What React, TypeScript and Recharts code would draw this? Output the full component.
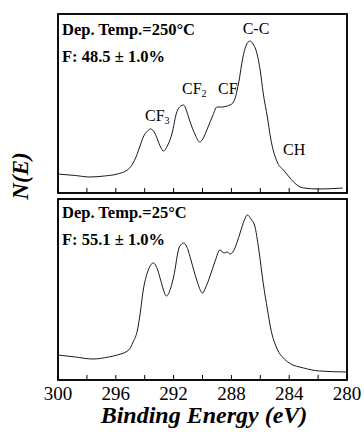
import * as React from "react"
import { LineChart, Line, XAxis, YAxis, ReferenceArea } from "recharts"

// Binding energy (eV) and N(E), per panel
const energy250 = [300.0, 298.8, 297.8, 296.8, 295.9, 295.2, 294.8, 294.6, 294.3, 294.1, 293.8, 293.6, 293.3, 293.1, 292.9, 292.7, 292.4, 292.1, 291.8, 291.5, 291.3, 291.1, 290.9, 290.5, 290.2, 289.9, 289.7, 289.3, 289.0, 288.6, 288.3, 287.9, 287.7, 287.5, 287.2, 286.9, 286.7, 286.5, 286.3, 286.0, 285.8, 285.5, 285.3, 284.8, 284.4, 284.0, 283.7, 283.0, 281.9, 280.3]
const counts250 = [19, 17.5, 16, 17, 19, 23, 30, 36, 48, 56, 62, 64, 60, 53, 46, 42, 48, 60, 80, 87, 88, 82, 73, 58, 51, 56, 63, 77, 86, 86, 87, 90, 97, 110, 136, 150, 152, 149, 143, 122, 100, 75, 56, 30, 23, 16, 11, 5, 4, 5]

const energy25 = [300.0, 298.8, 297.6, 296.5, 295.9, 295.1, 294.8, 294.5, 294.3, 294.1, 293.8, 293.4, 293.1, 292.9, 292.7, 292.5, 292.2, 292.0, 291.6, 291.3, 291.0, 290.8, 290.4, 290.0, 289.8, 289.5, 289.1, 288.8, 288.5, 288.3, 288.1, 287.9, 287.6, 287.4, 287.1, 286.9, 286.6, 286.4, 286.1, 285.8, 285.5, 285.3, 284.8, 284.4, 284.0, 283.0, 281.9, 280.0]
const counts25 = [25, 23, 21, 23, 25, 30, 38, 50, 68, 90, 108, 117, 110, 100, 90, 84, 92, 103, 133, 137, 130, 120, 100, 87, 92, 103, 120, 130, 127, 128, 126, 128, 138, 147, 160, 165, 160, 155, 130, 97, 70, 53, 30, 22, 17, 12, 9, 8]

const xTicks = [280, 282, 284, 286, 288, 290, 292, 294, 296, 298, 300]

const serif = '"Liberation Serif", "Times New Roman", serif'

// panel boxes (page px)
const W = 364
const LEFT = 58
const RIGHT = 347
const TOP1 = 14
const BOT1 = 193
const TOP2 = 199
const BOT2 = 380
const AXIS_H = 30
const TOP2_DIV = 190
const H2 = 242

const toRows = (xs: number[], ys: number[]) => xs.map((e, i) => ({ e, n: ys[i] }))

// inward tick mark, label below the frame on the bottom panel only
function EnergyTick(props: any) {
  const { x, y, payload, showLabel } = props
  const v = payload.value
  return (
    <g>
      <line x1={x} x2={x} y1={y} y2={y - 5} stroke="#000" strokeWidth={1} />
      {showLabel && v % 4 === 0 && (
        <text x={x} y={y + 20} textAnchor="middle" style={{ fontFamily: serif, fontSize: 19 }} fill="#000">
          {v}
        </text>
      )}
    </g>
  )
}

function Panel({ rows, yMax, height, margin, showLabels }: any) {
  return (
    <LineChart width={W} height={height} data={rows} margin={margin}>
      <XAxis
        dataKey="e"
        type="number"
        domain={[280, 300]}
        reversed
        ticks={xTicks}
        interval={0}
        height={AXIS_H}
        tickSize={0}
        tickMargin={0}
        axisLine={false}
        tickLine={false}
        tick={(p: any) => <EnergyTick {...p} showLabel={showLabels} />}
      />
      <YAxis hide type="number" domain={[0, yMax]} />
      <ReferenceArea x1={280} x2={300} y1={0} y2={yMax} ifOverflow="visible" fill="#fff" fillOpacity={0} stroke="#000" strokeWidth={1.5} />
      <Line type="monotone" dataKey="n" stroke="#1a1a1a" strokeWidth={1} dot={false} isAnimationActive={false} />
    </LineChart>
  )
}

const boxPath = (t: number, b: number) => `M${LEFT},${t}H${RIGHT}V${b}H${LEFT}Z`

export default function App() {
  const top = React.useMemo(() => toRows(energy250, counts250), [])
  const bottom = React.useMemo(() => toRows(energy25, counts25), [])
  const bold = { style: { fontFamily: serif, fontWeight: 700, fontSize: 16.5 }, fill: "#000" }
  const peak = { style: { fontFamily: serif, fontSize: 16 }, fill: "#000" }

  return (
    <div style={{ position: "absolute", left: 0, top: 0, width: W, height: 432, background: "#fff" }}>
      <div style={{ position: "absolute", left: 0, top: 0 }}>
        <Panel
          rows={top}
          yMax={BOT1 - TOP1}
          height={BOT1 + AXIS_H}
          margin={{ top: TOP1, right: W - RIGHT, bottom: 0, left: LEFT }}
          showLabels={false}
        />
      </div>
      <div style={{ position: "absolute", left: 0, top: TOP2_DIV }}>
        <Panel
          rows={bottom}
          yMax={BOT2 - TOP2}
          height={H2}
          margin={{ top: TOP2 - TOP2_DIV, right: W - RIGHT, bottom: TOP2_DIV + H2 - BOT2 - AXIS_H, left: LEFT }}
          showLabels
        />
      </div>
      <svg width={W} height={432} style={{ position: "absolute", left: 0, top: 0, pointerEvents: "none" }}>
        <path d={boxPath(TOP1, BOT1)} fill="none" stroke="#000" strokeWidth={1.5} />
        <path d={boxPath(TOP2, BOT2)} fill="none" stroke="#000" strokeWidth={1.5} />

        <text x={62} y={35} {...bold}>Dep. Temp.=250°C</text>
        <text x={62} y={62} {...bold}>F: 48.5 ± 1.0%</text>
        <text x={62} y={218} {...bold}>Dep. Temp.=25°C</text>
        <text x={62} y={245} {...bold}>F: 55.1 ± 1.0%</text>

        <text x={256} y={34} textAnchor="middle" {...peak}>C-C</text>
        <text x={182} y={94} {...peak}>CF<tspan fontSize={10} dy={3}>2</tspan></text>
        <text x={218} y={94} {...peak}>CF</text>
        <text x={145} y={121} {...peak}>CF<tspan fontSize={10} dy={3}>3</tspan></text>
        <text x={283} y={155} {...peak}>CH</text>

        <text x={204} y={423} textAnchor="middle" style={{ fontFamily: serif, fontWeight: 700, fontStyle: "italic", fontSize: 24 }} fill="#000">
          Binding Energy (eV)
        </text>
        <text x={28} y={176} textAnchor="middle" transform="rotate(-90 28 176)" style={{ fontFamily: serif, fontWeight: 700, fontStyle: "italic", fontSize: 23 }} fill="#000">
          N(E)
        </text>
      </svg>
    </div>
  )
}
